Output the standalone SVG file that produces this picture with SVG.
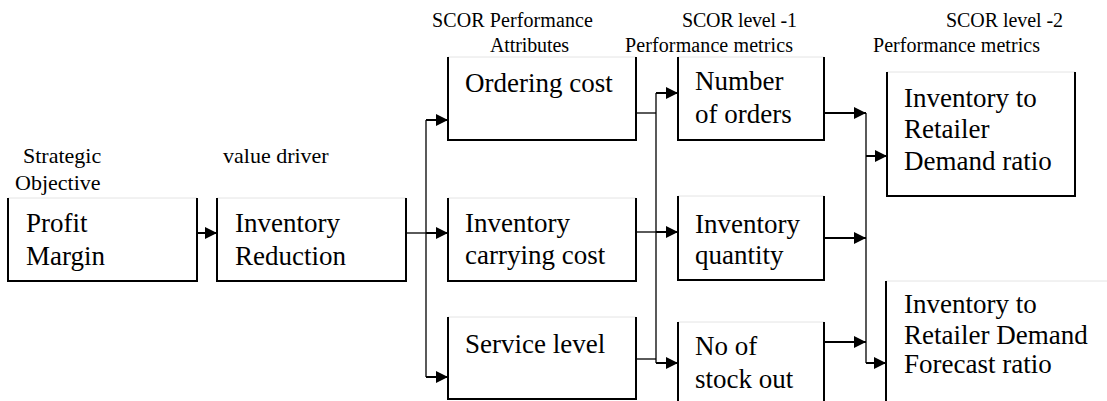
<svg xmlns="http://www.w3.org/2000/svg" width="1107" height="401" viewBox="0 0 1107 401" font-family="'Liberation Serif', 'DejaVu Serif', serif">
<style>
.bg{fill:#fff;stroke:none}
.edge{fill:none;stroke:#000;stroke-width:2}
.top{fill:none;stroke:#e4e4e4;stroke-width:1}
text{font-family:'Liberation Serif','DejaVu Serif',serif;fill:#000}
.t{font-size:27px}
.h{font-size:20px}
.h2{font-size:22px}
.c{fill:none;stroke:#000;stroke-width:1.3}
.ca{fill:none;stroke:#000;stroke-width:2;marker-end:url(#ah)}
</style>
<defs>
<marker id="ah" markerUnits="userSpaceOnUse" markerWidth="12" markerHeight="12" refX="12" refY="6" orient="auto">
<path d="M0,0 L12,6 L0,12 z" fill="#000"/>
</marker>
</defs>
<rect width="1107" height="401" fill="#fff"/>

<g id="labels">
<text class="h2" x="23" y="163">Strategic</text>
<text class="h2" x="15" y="190">Objective</text>
<text class="h2" x="223" y="163">value driver</text>
<text class="h" x="432" y="27" textLength="161">SCOR Performance</text>
<text class="h" x="490" y="52" textLength="79">Attributes</text>
<text class="h" x="682" y="27" textLength="115">SCOR level -1</text>
<text class="h" x="625" y="52" textLength="168">Performance metrics</text>
<text class="h" x="946" y="27" textLength="117">SCOR level -2</text>
<text class="h" x="873" y="52" textLength="167">Performance metrics</text>
</g>

<g id="profit-margin">
<rect class="bg" x="8" y="198" width="189" height="83"/>
<path class="top" d="M8,198 H197"/>
<path class="edge" d="M8,198 V281 H197 V198"/>
<text class="t" x="26" y="232">Profit</text>
<text class="t" x="26" y="265">Margin</text>
</g>

<g id="inventory-reduction">
<rect class="bg" x="217" y="198" width="189" height="83"/>
<path class="top" d="M217,198 H406"/>
<path class="edge" d="M217,198 V281 H406 V198"/>
<text class="t" x="235" y="232">Inventory</text>
<text class="t" x="235" y="265">Reduction</text>
</g>

<g id="ordering-cost">
<rect class="bg" x="448" y="57" width="188" height="83"/>
<path class="top" d="M448,57 H636"/>
<path class="edge" d="M448,57 V140 H636 V57"/>
<text class="t" x="465" y="92">Ordering cost</text>
</g>

<g id="inventory-carrying-cost">
<rect class="bg" x="448" y="198" width="188" height="83"/>
<path class="top" d="M448,198 H636"/>
<path class="edge" d="M448,198 V281 H636 V198"/>
<text class="t" x="465" y="232">Inventory</text>
<text class="t" x="465" y="264">carrying cost</text>
</g>

<g id="service-level">
<rect class="bg" x="448" y="317" width="188" height="82"/>
<path class="top" d="M448,317 H636"/>
<path class="edge" d="M448,317 V399 H636 V317"/>
<text class="t" x="465" y="353">Service level</text>
</g>

<g id="number-of-orders">
<rect class="bg" x="678" y="57" width="146" height="83"/>
<path class="top" d="M678,57 H824"/>
<path class="edge" d="M678,57 V140 H824 V57"/>
<text class="t" x="695" y="90">Number</text>
<text class="t" x="695" y="123">of orders</text>
</g>

<g id="inventory-quantity">
<rect class="bg" x="678" y="196" width="146" height="84"/>
<path class="top" d="M678,196 H824"/>
<path class="edge" d="M678,196 V280 H824 V196"/>
<text class="t" x="695" y="233">Inventory</text>
<text class="t" x="695" y="264">quantity</text>
</g>

<g id="no-of-stock-out">
<rect class="bg" x="678" y="322" width="146" height="90"/>
<path class="top" d="M678,322 H824"/>
<path class="edge" d="M678,322 V412 H824 V322"/>
<text class="t" x="695" y="355">No of</text>
<text class="t" x="695" y="388">stock out</text>
</g>

<g id="inventory-retailer-demand-ratio">
<rect class="bg" x="887" y="72" width="188" height="124"/>
<path class="top" d="M887,72 H1075"/>
<path class="edge" d="M887,72 V196 H1075 V72"/>
<text class="t" x="904" y="107">Inventory to</text>
<text class="t" x="904" y="138">Retailer</text>
<text class="t" x="904" y="170">Demand ratio</text>
</g>

<g id="inventory-retailer-demand-forecast-ratio">
<rect class="bg" x="886" y="281" width="230" height="130"/>
<path class="top" d="M886,281 H1110"/>
<path class="edge" d="M886,281 V412"/>
<text class="t" x="904" y="313">Inventory to</text>
<text class="t" x="904" y="344">Retailer Demand</text>
<text class="t" x="904" y="373">Forecast ratio</text>
</g>

<g id="connectors">
<path class="ca" d="M197,233 H217"/>
<path class="c" d="M406,233 H426"/>
<path class="c" d="M426,120 V377"/>
<path class="ca" d="M426,120 H448"/>
<path class="ca" d="M426,233 H448"/>
<path class="ca" d="M426,377 H448"/>
<path class="c" d="M636,113 H656"/>
<path class="c" d="M656,93 V363"/>
<path class="ca" d="M656,93 H678"/>
<path class="c" d="M636,232 H656"/>
<path class="ca" d="M656,232 H678"/>
<path class="c" d="M636,359 H656"/>
<path class="ca" d="M656,363 H678"/>
<path class="ca" d="M824,113 H866"/>
<path class="ca" d="M824,238 H866"/>
<path class="ca" d="M824,342 H866"/>
<path class="c" d="M866,113 V363"/>
<path class="ca" d="M866,156 H887"/>
<path class="ca" d="M866,363 H886"/>
</g>
</svg>
